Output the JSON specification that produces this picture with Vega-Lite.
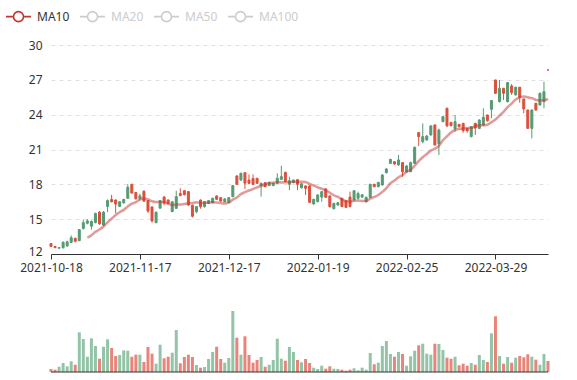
{
  "$schema": "https://vega.github.io/schema/vega-lite/v6.json",
  "width": 497,
  "height": 327,
  "autosize": {"type": "none"},
  "padding": {"left": 51, "top": 45, "right": 29, "bottom": 8},
  "background": "#ffffff",
  "config": {"view": {"stroke": null}, "font": "Noto Sans",
    "axisX": {"labelOverlap": false, "labelFlush": false, "labelBound": false}},
  "data": {"values": [
    {"date":"2021-10-18","open":12.9,"high":12.95,"low":12.6,"close":12.65,"volume":30},
    {"date":"2021-10-19","open":12.65,"high":12.7,"low":12.5,"close":12.55,"volume":23},
    {"date":"2021-10-20","open":12.5,"high":12.6,"low":12.45,"close":12.55,"volume":53},
    {"date":"2021-10-21","open":12.55,"high":13.1,"low":12.45,"close":13.0,"volume":90},
    {"date":"2021-10-22","open":12.7,"high":13.15,"low":12.6,"close":13.05,"volume":57},
    {"date":"2021-10-25","open":13.0,"high":13.6,"low":12.95,"close":13.4,"volume":107},
    {"date":"2021-10-26","open":13.35,"high":13.4,"low":13.0,"close":13.1,"volume":73},
    {"date":"2021-10-27","open":13.15,"high":14.15,"low":13.1,"close":14.1,"volume":397},
    {"date":"2021-10-28","open":14.2,"high":14.95,"low":14.1,"close":14.7,"volume":330},
    {"date":"2021-10-29","open":14.65,"high":15.0,"low":14.55,"close":14.85,"volume":153,"ma10":13.40},
    {"date":"2021-11-01","open":14.4,"high":14.9,"low":14.1,"close":14.8,"volume":337,"ma10":13.61},
    {"date":"2021-11-02","open":14.7,"high":15.55,"low":14.65,"close":15.5,"volume":260,"ma10":13.91},
    {"date":"2021-11-03","open":15.6,"high":15.7,"low":14.5,"close":14.6,"volume":133,"ma10":14.11},
    {"date":"2021-11-04","open":14.5,"high":15.7,"low":14.4,"close":15.6,"volume":253,"ma10":14.37},
    {"date":"2021-11-05","open":16.1,"high":16.7,"low":15.6,"close":16.6,"volume":327,"ma10":14.73},
    {"date":"2021-11-08","open":16.7,"high":17.1,"low":16.45,"close":16.5,"volume":240,"ma10":15.04},
    {"date":"2021-11-09","open":16.65,"high":16.7,"low":15.5,"close":16.3,"volume":160,"ma10":15.36},
    {"date":"2021-11-10","open":16.1,"high":16.55,"low":16.05,"close":16.5,"volume":170,"ma10":15.60},
    {"date":"2021-11-11","open":16.4,"high":16.75,"low":16.35,"close":16.7,"volume":217,"ma10":15.80},
    {"date":"2021-11-12","open":16.8,"high":18.0,"low":16.75,"close":17.75,"volume":213,"ma10":16.09},
    {"date":"2021-11-15","open":18.0,"high":18.05,"low":17.2,"close":17.25,"volume":153,"ma10":16.33},
    {"date":"2021-11-16","open":17.3,"high":17.35,"low":16.7,"close":16.75,"volume":173,"ma10":16.46},
    {"date":"2021-11-17","open":16.8,"high":17.2,"low":16.6,"close":17.0,"volume":173,"ma10":16.70},
    {"date":"2021-11-18","open":17.4,"high":17.5,"low":16.5,"close":16.55,"volume":100,"ma10":16.79},
    {"date":"2021-11-19","open":16.6,"high":16.65,"low":15.55,"close":15.7,"volume":250,"ma10":16.70},
    {"date":"2021-11-22","open":16.05,"high":16.1,"low":14.7,"close":14.85,"volume":183,"ma10":16.54},
    {"date":"2021-11-23","open":14.7,"high":15.65,"low":14.65,"close":15.6,"volume":83,"ma10":16.47},
    {"date":"2021-11-24","open":15.95,"high":16.65,"low":15.9,"close":16.6,"volume":273,"ma10":16.48},
    {"date":"2021-11-25","open":16.9,"high":17.0,"low":16.2,"close":16.4,"volume":137,"ma10":16.45},
    {"date":"2021-11-26","open":16.65,"high":16.7,"low":16.3,"close":16.36,"volume":153,"ma10":16.31},
    {"date":"2021-11-29","open":15.65,"high":16.55,"low":15.6,"close":16.5,"volume":193,"ma10":16.23},
    {"date":"2021-11-30","open":15.93,"high":17.45,"low":15.9,"close":16.94,"volume":420,"ma10":16.25},
    {"date":"2021-12-01","open":17.2,"high":17.66,"low":16.95,"close":17.05,"volume":87,"ma10":16.26},
    {"date":"2021-12-02","open":17.45,"high":17.5,"low":17.05,"close":17.1,"volume":150,"ma10":16.31},
    {"date":"2021-12-03","open":17.37,"high":17.4,"low":16.15,"close":16.22,"volume":173,"ma10":16.36},
    {"date":"2021-12-06","open":16.2,"high":16.25,"low":15.15,"close":15.25,"volume":150,"ma10":16.40},
    {"date":"2021-12-07","open":15.65,"high":16.1,"low":15.5,"close":16.08,"volume":70,"ma10":16.45},
    {"date":"2021-12-08","open":16.65,"high":16.7,"low":15.9,"close":16.08,"volume":43,"ma10":16.40},
    {"date":"2021-12-09","open":16.08,"high":16.55,"low":16.0,"close":16.5,"volume":50,"ma10":16.41},
    {"date":"2021-12-10","open":16.36,"high":16.65,"low":16.3,"close":16.59,"volume":130,"ma10":16.43},
    {"date":"2021-12-13","open":16.42,"high":16.85,"low":16.38,"close":16.8,"volume":200,"ma10":16.46},
    {"date":"2021-12-14","open":17.0,"high":17.05,"low":16.65,"close":16.71,"volume":253,"ma10":16.44},
    {"date":"2021-12-15","open":16.85,"high":16.9,"low":16.5,"close":16.56,"volume":130,"ma10":16.39},
    {"date":"2021-12-16","open":16.5,"high":16.8,"low":16.45,"close":16.74,"volume":93,"ma10":16.35},
    {"date":"2021-12-17","open":16.45,"high":16.9,"low":16.4,"close":16.85,"volume":140,"ma10":16.42},
    {"date":"2021-12-20","open":16.94,"high":17.95,"low":16.9,"close":17.89,"volume":610,"ma10":16.68},
    {"date":"2021-12-21","open":18.72,"high":18.8,"low":17.95,"close":18.0,"volume":343,"ma10":16.87},
    {"date":"2021-12-22","open":18.37,"high":19.0,"low":18.3,"close":18.95,"volume":173,"ma10":17.16},
    {"date":"2021-12-23","open":19.0,"high":19.05,"low":17.6,"close":18.1,"volume":357,"ma10":17.32},
    {"date":"2021-12-24","open":18.37,"high":18.86,"low":18.0,"close":18.09,"volume":170,"ma10":17.47},
    {"date":"2021-12-27","open":18.5,"high":18.86,"low":17.94,"close":18.0,"volume":93,"ma10":17.59},
    {"date":"2021-12-28","open":18.52,"high":18.55,"low":18.05,"close":18.09,"volume":120,"ma10":17.73},
    {"date":"2021-12-29","open":17.9,"high":18.15,"low":16.94,"close":18.09,"volume":150,"ma10":17.88},
    {"date":"2021-12-30","open":18.14,"high":18.2,"low":17.75,"close":17.8,"volume":53,"ma10":17.99},
    {"date":"2021-12-31","open":17.89,"high":18.2,"low":17.85,"close":18.17,"volume":73,"ma10":18.12},
    {"date":"2022-01-04","open":17.89,"high":18.15,"low":17.85,"close":18.09,"volume":120,"ma10":18.14},
    {"date":"2022-01-05","open":18.09,"high":18.95,"low":18.05,"close":18.52,"volume":333,"ma10":18.19},
    {"date":"2022-01-06","open":18.43,"high":19.6,"low":18.4,"close":18.66,"volume":133,"ma10":18.16},
    {"date":"2022-01-07","open":19.03,"high":19.1,"low":18.2,"close":18.23,"volume":113,"ma10":18.17},
    {"date":"2022-01-10","open":18.0,"high":18.66,"low":17.5,"close":18.3,"volume":250,"ma10":18.20},
    {"date":"2022-01-11","open":18.14,"high":18.4,"low":18.1,"close":18.37,"volume":200,"ma10":18.23},
    {"date":"2022-01-12","open":18.4,"high":18.45,"low":17.5,"close":18.0,"volume":120,"ma10":18.22},
    {"date":"2022-01-13","open":17.7,"high":18.1,"low":17.65,"close":18.05,"volume":97,"ma10":18.22},
    {"date":"2022-01-14","open":17.86,"high":17.9,"low":17.08,"close":17.66,"volume":130,"ma10":18.21},
    {"date":"2022-01-17","open":17.86,"high":17.9,"low":16.4,"close":16.45,"volume":90,"ma10":18.03},
    {"date":"2022-01-18","open":16.31,"high":16.75,"low":16.25,"close":16.71,"volume":43,"ma10":17.90},
    {"date":"2022-01-19","open":16.51,"high":17.15,"low":16.45,"close":17.08,"volume":30,"ma10":17.75},
    {"date":"2022-01-20","open":16.9,"high":17.4,"low":16.5,"close":17.37,"volume":63,"ma10":17.62},
    {"date":"2022-01-21","open":17.6,"high":17.65,"low":16.85,"close":16.88,"volume":33,"ma10":17.49},
    {"date":"2022-01-24","open":17.0,"high":17.05,"low":16.0,"close":16.08,"volume":57,"ma10":17.27},
    {"date":"2022-01-25","open":15.9,"high":16.4,"low":15.85,"close":16.36,"volume":33,"ma10":17.06},
    {"date":"2022-01-26","open":16.22,"high":16.45,"low":16.15,"close":16.42,"volume":30,"ma10":16.91},
    {"date":"2022-01-27","open":16.79,"high":16.85,"low":16.05,"close":16.08,"volume":23,"ma10":16.71},
    {"date":"2022-01-28","open":16.59,"high":16.65,"low":15.95,"close":16.02,"volume":13,"ma10":16.55},
    {"date":"2022-02-07","open":16.9,"high":17.37,"low":16.0,"close":16.1,"volume":23,"ma10":16.51},
    {"date":"2022-02-08","open":16.65,"high":17.5,"low":16.6,"close":17.45,"volume":37,"ma10":16.58},
    {"date":"2022-02-09","open":16.8,"high":17.37,"low":16.71,"close":17.2,"volume":17,"ma10":16.60},
    {"date":"2022-02-10","open":16.9,"high":17.15,"low":16.85,"close":17.1,"volume":43,"ma10":16.57},
    {"date":"2022-02-11","open":16.5,"high":16.95,"low":16.45,"close":16.88,"volume":23,"ma10":16.57},
    {"date":"2022-02-14","open":16.88,"high":18.05,"low":16.85,"close":18.0,"volume":190,"ma10":16.76},
    {"date":"2022-02-15","open":18.0,"high":18.05,"low":17.75,"close":17.8,"volume":77,"ma10":16.91},
    {"date":"2022-02-16","open":17.8,"high":18.2,"low":17.75,"close":18.17,"volume":93,"ma10":17.08},
    {"date":"2022-02-17","open":17.94,"high":18.89,"low":17.9,"close":18.8,"volume":260,"ma10":17.35},
    {"date":"2022-02-18","open":19.0,"high":19.4,"low":18.95,"close":19.32,"volume":310,"ma10":17.68},
    {"date":"2022-02-21","open":19.81,"high":20.2,"low":19.75,"close":20.15,"volume":180,"ma10":18.09},
    {"date":"2022-02-22","open":19.95,"high":20.0,"low":19.7,"close":19.75,"volume":153,"ma10":18.32},
    {"date":"2022-02-23","open":19.67,"high":20.53,"low":19.6,"close":20.1,"volume":200,"ma10":18.61},
    {"date":"2022-02-24","open":19.87,"high":19.9,"low":18.66,"close":19.09,"volume":180,"ma10":18.81},
    {"date":"2022-02-25","open":19.06,"high":19.65,"low":19.0,"close":19.58,"volume":63,"ma10":19.08},
    {"date":"2022-02-28","open":19.09,"high":19.95,"low":19.05,"close":19.87,"volume":157,"ma10":19.26},
    {"date":"2022-03-01","open":19.81,"high":21.25,"low":19.75,"close":21.19,"volume":213,"ma10":19.60},
    {"date":"2022-03-02","open":22.45,"high":22.5,"low":21.3,"close":22.11,"volume":267,"ma10":20.00},
    {"date":"2022-03-03","open":21.67,"high":23.25,"low":21.53,"close":22.11,"volume":283,"ma10":20.33},
    {"date":"2022-03-04","open":21.82,"high":22.25,"low":21.76,"close":22.16,"volume":183,"ma10":20.61},
    {"date":"2022-03-07","open":22.25,"high":23.1,"low":22.2,"close":23.03,"volume":173,"ma10":20.90},
    {"date":"2022-03-08","open":23.11,"high":23.16,"low":21.35,"close":21.39,"volume":283,"ma10":21.06},
    {"date":"2022-03-09","open":21.5,"high":22.8,"low":20.53,"close":22.68,"volume":280,"ma10":21.32},
    {"date":"2022-03-10","open":23.4,"high":23.9,"low":23.35,"close":23.83,"volume":220,"ma10":21.80},
    {"date":"2022-03-11","open":24.55,"high":24.6,"low":22.97,"close":23.03,"volume":143,"ma10":22.14},
    {"date":"2022-03-14","open":23.32,"high":23.4,"low":23.0,"close":23.05,"volume":133,"ma10":22.46},
    {"date":"2022-03-15","open":22.8,"high":23.97,"low":22.54,"close":23.4,"volume":153,"ma10":22.68},
    {"date":"2022-03-16","open":23.16,"high":23.2,"low":22.9,"close":22.97,"volume":67,"ma10":22.77},
    {"date":"2022-03-17","open":23.25,"high":23.3,"low":22.45,"close":22.62,"volume":83,"ma10":22.82},
    {"date":"2022-03-18","open":22.82,"high":22.85,"low":22.45,"close":22.6,"volume":63,"ma10":22.86},
    {"date":"2022-03-21","open":22.11,"high":23.0,"low":22.05,"close":22.97,"volume":90,"ma10":22.85},
    {"date":"2022-03-22","open":23.25,"high":23.3,"low":22.25,"close":22.85,"volume":73,"ma10":23.00},
    {"date":"2022-03-23","open":22.82,"high":23.6,"low":22.75,"close":23.54,"volume":170,"ma10":23.09},
    {"date":"2022-03-24","open":23.11,"high":24.55,"low":23.05,"close":23.77,"volume":120,"ma10":23.08},
    {"date":"2022-03-25","open":23.97,"high":24.0,"low":23.4,"close":23.48,"volume":100,"ma10":23.13},
    {"date":"2022-03-28","open":24.46,"high":25.25,"low":23.69,"close":25.21,"volume":387,"ma10":23.34},
    {"date":"2022-03-29","open":26.99,"high":27.0,"low":25.8,"close":25.84,"volume":557,"ma10":23.59},
    {"date":"2022-03-30","open":25.12,"high":26.99,"low":25.05,"close":26.27,"volume":160,"ma10":23.92},
    {"date":"2022-03-31","open":26.27,"high":26.3,"low":25.26,"close":25.84,"volume":83,"ma10":24.24},
    {"date":"2022-04-01","open":25.12,"high":26.8,"low":25.05,"close":26.76,"volume":150,"ma10":24.65},
    {"date":"2022-04-06","open":26.47,"high":26.64,"low":25.7,"close":25.9,"volume":93,"ma10":24.95},
    {"date":"2022-04-07","open":25.7,"high":26.4,"low":25.65,"close":26.36,"volume":143,"ma10":25.30},
    {"date":"2022-04-08","open":26.36,"high":26.4,"low":25.03,"close":25.49,"volume":160,"ma10":25.49},
    {"date":"2022-04-11","open":25.35,"high":25.4,"low":24.12,"close":24.49,"volume":147,"ma10":25.56},
    {"date":"2022-04-12","open":24.4,"high":24.45,"low":22.8,"close":22.82,"volume":177,"ma10":25.50},
    {"date":"2022-04-13","open":22.82,"high":24.45,"low":21.96,"close":24.4,"volume":153,"ma10":25.42},
    {"date":"2022-04-14","open":24.98,"high":25.0,"low":24.35,"close":24.4,"volume":123,"ma10":25.27},
    {"date":"2022-04-15","open":24.83,"high":25.9,"low":24.8,"close":25.84,"volume":73,"ma10":25.23},
    {"date":"2022-04-18","open":25.12,"high":26.84,"low":24.55,"close":25.98,"volume":180,"ma10":25.24},
    {"date":"2022-04-19","open":27.85,"high":27.85,"low":27.85,"close":27.85,"volume":110,"ma10":25.35}
  ]},
  "layer": [
    {
      "layer": [
        {
          "mark": {"type": "rule", "strokeWidth": 1},
          "encoding": {
            "x": {"field": "date", "type": "ordinal", "scale": {"type": "point", "padding": 0},
                  "axis": {"labelExpr": "indexof(['2021-10-18','2021-11-17','2021-12-17','2022-01-19','2022-02-25','2022-03-29'], datum.value) >= 0 ? datum.value : ''", "tickColor": {"condition": {"test": "indexof(['2021-10-18','2021-11-17','2021-12-17','2022-01-19','2022-02-25','2022-03-29'], datum.value) >= 0", "value": "#333333"}, "value": "transparent"}, "labelAngle": 0, "offset": -118, "title": null, "domainColor": "#333333", "tickSize": 5, "labelPadding": 3, "labelColor": "#333333", "labelFontSize": 12, "labelFont": "Noto Sans", "grid": false, "zindex": 1, "labelOverlap": false, "labelFlush": false, "labelBound": false}},
            "y": {"field": "low", "type": "quantitative", "scale": {"domain": [12, 30], "range": [209, 0], "nice": false, "zero": false},
                  "axis": {"values": [12,15,18,21,24,27,30], "title": null, "domain": false, "ticks": false, "labelPadding": 9, "labelOffset": {"condition": {"test": "datum.value === 12", "value": -3}, "value": 0}, "labelColor": "#333333", "labelFontSize": 12, "labelFont": "Noto Sans", "grid": true, "gridColor": "#e0e0e0", "gridDash": [4, 4]}},
            "y2": {"field": "high"},
            "color": {"condition": {"test": "datum.close > datum.open", "value": "#559b73"}, "value": "#dc503c"}
          }
        },
        {
          "mark": {"type": "bar", "size": 2, "strokeWidth": 1},
          "encoding": {
            "x": {"field": "date", "type": "ordinal", "scale": {"type": "point", "padding": 0}},
            "y": {"field": "open", "type": "quantitative", "scale": {"domain": [12, 30], "range": [209, 0], "nice": false, "zero": false}},
            "y2": {"field": "close"},
            "color": {"condition": {"test": "datum.close > datum.open", "value": "#559b73"}, "value": "#dc503c"},
            "stroke": {"condition": {"test": "datum.close > datum.open", "value": "#559b73"}, "value": "#dc503c"}
          }
        },
        {
          "mark": {"type": "line", "interpolate": "monotone", "strokeWidth": 2.5, "strokeOpacity": 0.5},
          "encoding": {
            "x": {"field": "date", "type": "ordinal", "scale": {"type": "point", "padding": 0}},
            "y": {"field": "ma10", "type": "quantitative", "scale": {"domain": [12, 30], "range": [209, 0], "nice": false, "zero": false}},
            "color": {"datum": "MA10", "type": "nominal",
                      "scale": {"domain": ["MA10","MA20","MA50","MA100"], "range": ["#c23531","#cccccc","#cccccc","#cccccc"]},
                      "legend": {"orient": "none", "legendX": -46, "legendY": -42, "direction": "horizontal", "title": null, "padding": 0,
                                 "symbolType": "M-1,0H-0.4M0.4,0H1M-0.4,0A0.4,0.4,0,1,0,0.4,0A0.4,0.4,0,1,0,-0.4,0",
                                 "symbolSize": 625, "symbolStrokeWidth": 1.6, "symbolOpacity": 1,
                                 "labelFontSize": 12, "labelFont": "Noto Sans", "labelOffset": 5, "columnPadding": 6,
                                 "encode": {
                                   "labels": {"update": {"fill": {"signal": "datum.value === 'MA10' ? '#333333' : '#cccccc'"}}},
                                   "symbols": {"update": {"fill": {"value": "#ffffff"}, "stroke": {"signal": "datum.value === 'MA10' ? '#c23531' : '#cccccc'"}, "strokeWidth": {"value": 1.6}, "opacity": {"value": 1}}}
                                 }}}
          }
        }
      ]
    },
    {
      "layer": [
        {
          "mark": {"type": "bar", "size": 3},
          "encoding": {
            "x": {"field": "date", "type": "ordinal", "scale": {"type": "point", "padding": 0}},
            "y": {"field": "volume", "type": "quantitative", "scale": {"domain": [0, 720], "range": [327, 255], "nice": false}, "axis": null},
            "color": {"condition": {"test": "datum.close > datum.open", "value": "#93c4a7"}, "value": "#e8857a"}
          }
        },
        {
          "transform": [{"aggregate": [{"op": "count", "as": "n"}]}],
          "mark": {"type": "rule", "color": "#333333", "strokeWidth": 1},
          "encoding": {"y": {"datum": 0, "type": "quantitative"}}
        }
      ]
    }
  ],
  "resolve": {"scale": {"y": "independent"}}
}
